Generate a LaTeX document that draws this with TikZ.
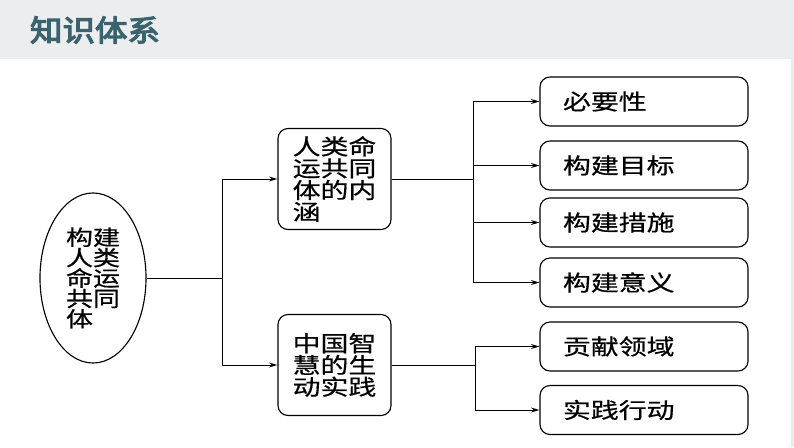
\documentclass[tikz,border=0pt]{standalone}
\usepackage{fontspec}
\setmainfont{Noto Sans CJK SC}[FakeStretch=1.28,FakeBold=0.6]
\newfontfamily\titlefont{Noto Sans CJK SC}[FakeBold=4,FakeStretch=1.1]
\usetikzlibrary{shapes.geometric,arrows.meta}

\definecolor{titlecol}{RGB}{59,99,110}
\definecolor{bandgray}{RGB}{236,237,239}

\tikzset{
	midbox/.style={draw, rounded corners=0.25cm, line width=0.8pt, minimum width=2.825cm, minimum height=2.525cm, align=left, font=\fontsize{15.5pt}{15.5pt}\selectfont},
	leafbox/.style={draw, rounded corners=0.25cm, line width=0.8pt, minimum height=1.225cm, text width=4.05cm, inner xsep=0.575cm, align=left, font=\fontsize{15.5pt}{15.5pt}\selectfont},
	link/.style={line width=0.7pt},
}

\begin{document}
\begin{tikzpicture}[x=0.025cm, y=-0.025cm, >={Stealth[length=6pt,width=3.5pt]}]
		\useasboundingbox (0,0) rectangle (794,447);
		% header band
		\fill [bandgray] (0,0) rectangle (794,59);
		\fill [gray!15] (791,59) rectangle (794,447);
		\node [text=titlecol, font=\titlefont\fontsize{21pt}{21pt}\selectfont] (title) at (95,30) {知识体系};

		% root
		\node [draw, ellipse, line width=0.8pt, minimum width=2.65cm, minimum height=4.25cm, inner sep=0pt, align=left, font=\fontsize{15pt}{14.5pt}\selectfont] (root) at (93,278) {构建\\人类\\命运\\共同\\体};

		% second level
		\node [midbox] (neihan) at (334.5,179) {人类命\\运共同\\体的内\\涵};
		\node [midbox] (shijian) at (334.5,365) {中国智\\慧的生\\动实践};

		% leaves
		\node [leafbox] (biyao) at (644,101.5) {必要性};
		\node [leafbox] (mubiao) at (644,165.5) {构建目标};
		\node [leafbox] (cuoshi) at (644,222.5) {构建措施};
		\node [leafbox] (yiyi) at (644,282.5) {构建意义};
		\node [leafbox] (gongxian) at (644,346.5) {贡献领域};
		\node [leafbox] (xingdong) at (644,410) {实践行动};

		% connectors
		\coordinate (j1) at (222,278);
		\coordinate (j2) at (473,179);
		\coordinate (j3) at (475,365);
		\draw [link] (root.east) -- (j1);
		\draw [link, ->] (j1) |- (neihan.west);
		\draw [link, ->] (j1) |- (shijian.west);
		\draw [link] (neihan.east) -- (j2);
		\draw [link, ->] (j2) |- (biyao.west);
		\draw [link, ->] (j2) |- (mubiao.west);
		\draw [link, ->] (j2) |- (cuoshi.west);
		\draw [link, ->] (j2) |- (yiyi.west);
		\draw [link] (shijian.east) -- (j3);
		\draw [link, ->] (j3) |- (gongxian.west);
		\draw [link, ->] (j3) |- (xingdong.west);
\end{tikzpicture}
\end{document}
